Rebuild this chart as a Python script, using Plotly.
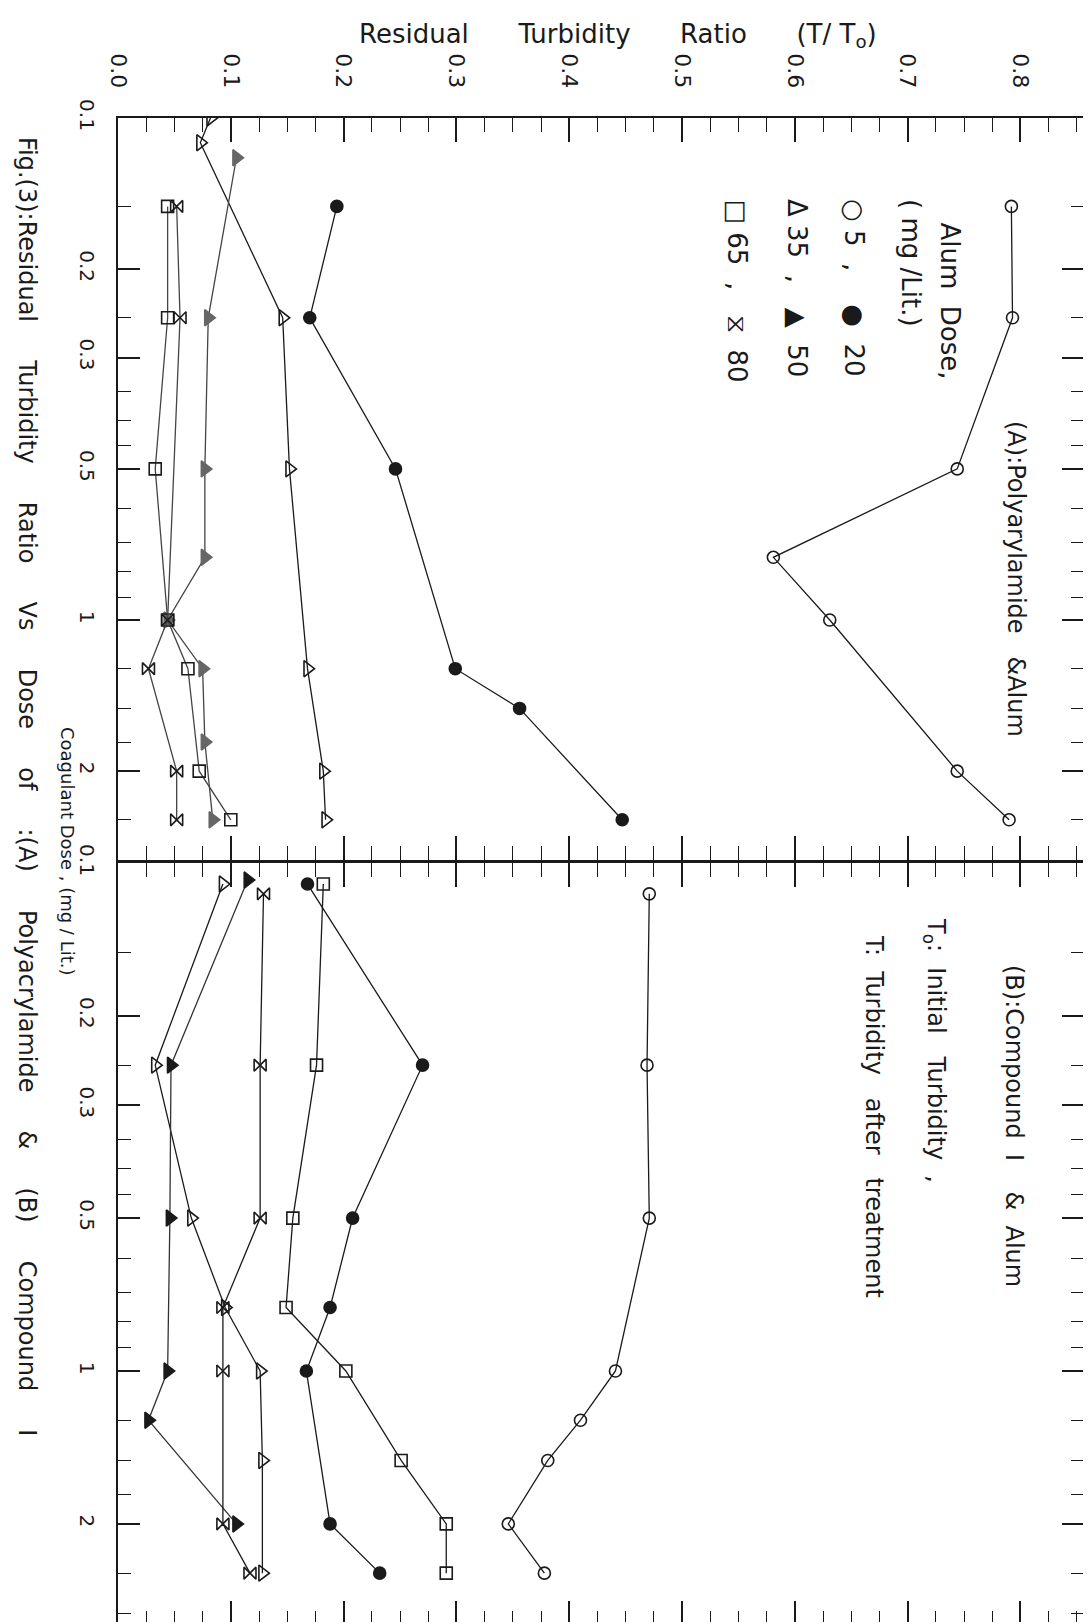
import plotly.graph_objects as go

# ---------------- data ----------------
# Panel A : Polyacrylamide & Alum   (dose in mg/L, residual turbidity ratio T/To)
dose_A_5 = [0.15, 0.25, 0.5, 0.75, 1, 2, 2.5]
ratio_A_5 = [0.792, 0.793, 0.744, 0.581, 0.631, 0.744, 0.790]
dose_A_20 = [0.15, 0.25, 0.5, 1.25, 1.5, 2.5]
ratio_A_20 = [0.194, 0.170, 0.246, 0.299, 0.356, 0.447]
dose_A_35 = [0.1, 0.112, 0.25, 0.5, 1.25, 2, 2.5]
ratio_A_35 = [0.082, 0.073, 0.146, 0.152, 0.168, 0.182, 0.184]
dose_A_50 = [0.12, 0.25, 0.5, 0.75, 1, 1.25, 1.75, 2.5]
ratio_A_50 = [0.105, 0.080, 0.077, 0.077, 0.044, 0.075, 0.077, 0.084]
dose_A_65 = [0.15, 0.25, 0.5, 1, 1.25, 2, 2.5]
ratio_A_65 = [0.044, 0.044, 0.033, 0.044, 0.062, 0.072, 0.100]
dose_A_80 = [0.15, 0.25, 1, 1.25, 2, 2.5]
ratio_A_80 = [0.052, 0.055, 0.044, 0.027, 0.052, 0.052]

# Panel B : Compound I & Alum
dose_B_5 = [0.115, 0.25, 0.5, 1, 1.25, 1.5, 2, 2.5]
ratio_B_5 = [0.471, 0.469, 0.471, 0.441, 0.410, 0.381, 0.346, 0.378]
dose_B_20 = [0.11, 0.25, 0.5, 0.75, 1, 2, 2.5]
ratio_B_20 = [0.168, 0.270, 0.208, 0.188, 0.167, 0.188, 0.232]
dose_B_35 = [0.11, 0.25, 0.5, 0.75, 1, 1.5, 2.5]
ratio_B_35 = [0.093, 0.033, 0.065, 0.095, 0.126, 0.128, 0.128]
dose_B_50 = [0.108, 0.25, 0.5, 1, 1.25, 2]
ratio_B_50 = [0.115, 0.047, 0.046, 0.044, 0.027, 0.105]
dose_B_65 = [0.11, 0.25, 0.5, 0.75, 1, 1.5, 2, 2.5]
ratio_B_65 = [0.182, 0.176, 0.155, 0.149, 0.202, 0.251, 0.291, 0.291]
dose_B_80 = [0.115, 0.25, 0.5, 0.75, 1, 2, 2.5]
ratio_B_80 = [0.129, 0.126, 0.126, 0.093, 0.093, 0.093, 0.117]

ratio_ticks = [0.0, 0.1, 0.2, 0.3, 0.4, 0.5, 0.6, 0.7, 0.8]
ratio_ticklabels = ["0.0", "0.1", "0.2", "0.3", "0.4", "0.5", "0.6", "0.7", "0.8"]
dose_ticks = [0.1, 0.2, 0.3, 0.5, 1, 2]
dose_ticklabels = ["0.1", "0.2", "0.3", "0.5", "1", "2"]
dose_minor = [0.15, 0.25, 0.35, 0.4, 0.45, 0.6, 0.7, 0.8, 0.9, 1.25, 1.5, 1.75, 2.5, 3]
ratio_minor = [i * 0.025 for i in range(35) if i % 4 != 0]

# ---------------- styling ----------------
W, H = 1091, 1622
L, R, T, B = 110, 1076, 110, 1617
FONT = "DejaVu Sans, Verdana, sans-serif"
INK = "#1a1a1a"
GRAY = "#666666"
NB = "\u00a0"


def px(x):
    return (x - L) / (R - L)


def py(y):
    return (B - y) / (B - T)


def sp(*words, gap=2):
    return (NB * gap).join(words)


series = [
    # (dose, ratio, yaxis, symbol, marker colour, line colour, size)
    (dose_A_5, ratio_A_5, "y", "circle-open", INK, INK, 12),
    (dose_A_20, ratio_A_20, "y", "circle", INK, INK, 12),
    (dose_A_35, ratio_A_35, "y", "triangle-right-open", INK, INK, 14),
    (dose_A_50, ratio_A_50, "y", "triangle-right", GRAY, "#444444", 14),
    (dose_A_65, ratio_A_65, "y", "square-open", INK, "#444444", 12),
    (dose_A_80, ratio_A_80, "y", "bowtie-open", INK, "#444444", 12),
    (dose_B_5, ratio_B_5, "y2", "circle-open", INK, INK, 12),
    (dose_B_20, ratio_B_20, "y2", "circle", INK, INK, 12),
    (dose_B_35, ratio_B_35, "y2", "triangle-right-open", INK, INK, 14),
    (dose_B_50, ratio_B_50, "y2", "triangle-right", INK, "#333333", 14),
    (dose_B_65, ratio_B_65, "y2", "square-open", INK, INK, 12),
    (dose_B_80, ratio_B_80, "y2", "bowtie-open", INK, INK, 12),
]

fig = go.Figure()
for d, r, ya, sym, mc, lc, sz in series:
    fig.add_trace(go.Scatter(
        x=r, y=d, xaxis="x" if ya == "y" else "x2", yaxis=ya,
        mode="lines+markers",
        line=dict(color=lc, width=1.3),
        marker=dict(symbol=sym, size=sz, color=mc, line=dict(color=mc, width=1.6)),
        showlegend=False, hoverinfo="skip",
    ))

xr = [0, (R - L) / 1128.0]
common_x = dict(
    range=xr, tickmode="array", tickvals=ratio_ticks, ticktext=ratio_ticklabels,
    ticks="inside", ticklen=24, tickwidth=1.5, tickcolor=INK,
    minor=dict(tickmode="array", tickvals=ratio_minor, ticks="inside", ticklen=14,
               tickwidth=1.3, tickcolor=INK),
    showline=True, linecolor=INK, linewidth=2, mirror="allticks",
    showgrid=False, zeroline=False, fixedrange=True,
    tickfont=dict(family=FONT, size=22, color=INK),
)
common_y = dict(
    type="log", tickmode="array", tickvals=dose_ticks, ticktext=dose_ticklabels,
    ticks="inside", ticklen=22, tickwidth=1.6, tickcolor=INK,
    minor=dict(tickmode="array", tickvals=dose_minor, ticks="inside", ticklen=13,
               tickwidth=1.3, tickcolor=INK),
    showline=True, linecolor=INK, linewidth=2, mirror="allticks",
    showgrid=False, zeroline=False, fixedrange=True,
    tickangle=90, ticklabelstandoff=12,
    tickfont=dict(family=FONT, size=20, color=INK),
)

fig.update_layout(
    width=W, height=H,
    margin=dict(l=L, r=W - R, t=T, b=H - B, pad=0),
    paper_bgcolor="white", plot_bgcolor="white",
    xaxis=dict(common_x, anchor="y", side="top", tickangle=90, ticklabelstandoff=20),
    xaxis2=dict(common_x, anchor="y2", matches="x", showticklabels=False),
    yaxis=dict(common_y, anchor="x", domain=[py(852), 1], range=[0.478, -1]),
    yaxis2=dict(common_y, anchor="x2", domain=[0, py(855)], range=[0.50, -1]),
)

texts = [
    # text, x px, y px, size, angle, yanchor
    (sp("Residual", "Turbidity", "Ratio", "(T/" + NB + "T<sub>o</sub>)", gap=6), 610, 28, 26, 0, "middle"),
    ("(A):Polyarylamide" + NB * 3 + "&Alum", 1008, 571, 24, 90, "middle"),
    (sp("Alum", "Dose,", gap=2), 941, 212, 26, 90, "top"),
    ("(" + NB + "mg" + NB + "/Lit.)", 903, 189, 26, 90, "top"),
    ("○" + NB + "5" + NB * 2 + "," + NB * 4 + "●" + NB * 2 + "20", 846, 189, 26, 90, "top"),
    ("Δ" + NB + "35" + NB * 2 + "," + NB * 3 + "▲" + NB * 2 + "50", 789, 189, 26, 90, "top"),
    ("□" + NB + "65" + NB * 2 + "," + NB * 3 + "⧖" + NB * 2 + "80", 729, 189, 26, 90, "top"),
    ("(B):Compound" + NB * 2 + "I" + NB * 4 + "&" + NB * 2 + "Alum", 1006, 1118, 24, 90, "middle"),
    ("T<sub>o</sub>:" + NB * 2 + "Initial" + NB * 3 + "Turbidity" + NB * 2 + ",", 927, 1042, 24, 90, "middle"),
    ("T:" + NB * 2 + "Turbidity" + NB * 3 + "after" + NB * 3 + "treatment", 866, 1108, 24, 90, "middle"),
    ("Coagulant" + NB + "Dose" + NB + "," + NB + "(mg" + NB + "/" + NB + "Lit.)", 60, 843, 18, 90, "middle"),
    (sp("Fig.(3):Residual", "Turbidity", "Ratio", "Vs", "Dose", "of", ":(A)", "Polyacrylamide",
        "&", "(B)", "Compound", "I", gap=5),
     19, 778, 24, 90, "middle"),
]
for t, x, y, s, a, ya in texts:
    fig.add_annotation(text=t, x=px(x), y=py(y), xref="paper", yref="paper",
                       showarrow=False, textangle=a, xanchor="center", yanchor=ya,
                       font=dict(family=FONT, size=s, color=INK))

fig.write_html("out.html")
